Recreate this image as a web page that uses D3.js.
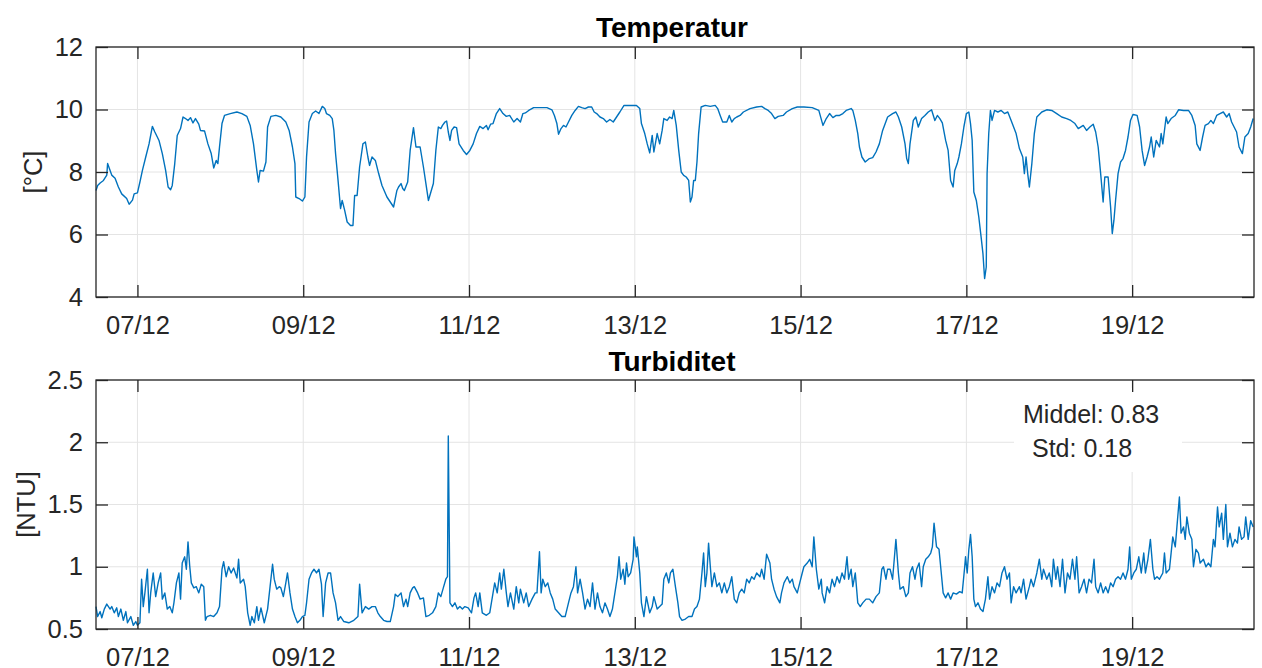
<!DOCTYPE html>
<html>
<head>
<meta charset="utf-8">
<script src="https://cdn.jsdelivr.net/npm/d3@7"></script>
<style>
body { margin: 0; background: #fff; }
svg { font-family: "Liberation Sans", Arial, Helvetica, sans-serif; }
</style>
</head>
<body>
<div id="chart"></div>
<script>
// [day of December, value]
const tempPts = [
[6.50,7.41],[6.52,7.57],[6.55,7.65],[6.59,7.73],[6.63,7.90],[6.64,8.27],[6.67,8.05],[6.69,7.90],[6.73,7.80],[6.77,7.52],[6.81,7.30],[6.87,7.15],[6.90,6.97],[6.94,7.10],[6.96,7.30],[7.00,7.33],[7.03,7.68],[7.06,8.05],[7.10,8.48],[7.14,8.90],[7.18,9.46],[7.21,9.28],[7.26,9.01],[7.30,8.59],[7.34,8.05],[7.37,7.52],[7.40,7.43],[7.42,7.57],[7.45,8.27],[7.48,9.17],[7.52,9.39],[7.55,9.76],[7.58,9.71],[7.61,9.65],[7.64,9.74],[7.67,9.57],[7.70,9.71],[7.74,9.53],[7.76,9.33],[7.81,9.31],[7.85,8.90],[7.89,8.59],[7.92,8.13],[7.95,8.37],[7.97,8.27],[7.99,8.80],[8.02,9.55],[8.05,9.81],[8.12,9.87],[8.20,9.92],[8.26,9.87],[8.32,9.78],[8.36,9.49],[8.40,8.90],[8.44,8.05],[8.46,7.68],[8.48,8.05],[8.52,8.03],[8.55,8.32],[8.57,9.44],[8.61,9.78],[8.67,9.81],[8.73,9.76],[8.79,9.60],[8.83,9.33],[8.87,8.80],[8.90,8.27],[8.91,7.20],[8.95,7.15],[8.99,7.07],[9.02,7.20],[9.04,8.48],[9.07,9.60],[9.11,9.87],[9.15,9.95],[9.19,9.87],[9.23,10.10],[9.26,10.03],[9.28,9.87],[9.32,9.81],[9.35,9.71],[9.37,9.33],[9.39,8.59],[9.42,7.73],[9.45,6.83],[9.47,7.09],[9.50,6.77],[9.53,6.40],[9.57,6.29],[9.60,6.29],[9.62,7.25],[9.65,7.25],[9.68,8.16],[9.72,8.90],[9.75,8.96],[9.78,8.48],[9.80,8.21],[9.83,8.48],[9.87,8.37],[9.91,7.95],[9.95,7.57],[10.01,7.20],[10.05,7.04],[10.09,6.88],[10.13,7.41],[10.15,7.52],[10.18,7.63],[10.20,7.47],[10.22,7.41],[10.26,7.68],[10.29,8.69],[10.33,9.42],
[10.36,8.80],[10.41,8.80],[10.45,8.16],[10.48,7.63],[10.51,7.09],[10.54,7.36],[10.57,7.63],[10.60,8.69],[10.63,9.44],[10.66,9.39],[10.68,9.49],[10.71,9.60],[10.73,9.63],[10.75,9.28],[10.77,9.01],[10.79,9.33],[10.82,9.44],[10.85,9.42],[10.88,8.90],[10.93,8.69],[10.97,8.56],[11.01,8.69],[11.05,8.90],[11.09,9.23],[11.13,9.46],[11.17,9.39],[11.21,9.49],[11.23,9.35],[11.26,9.53],[11.29,9.55],[11.33,9.87],[11.37,10.03],[11.41,9.87],[11.45,9.78],[11.49,9.81],[11.54,9.60],[11.58,9.71],[11.62,9.60],[11.65,9.87],[11.68,9.89],[11.72,9.97],[11.78,10.06],[11.86,10.06],[11.94,10.06],[12.00,9.99],[12.03,9.81],[12.06,9.55],[12.08,9.21],[12.11,9.39],[12.14,9.49],[12.17,9.44],[12.20,9.60],[12.24,9.81],[12.28,9.97],[12.32,10.10],[12.36,10.06],[12.40,10.03],[12.44,10.08],[12.48,10.08],[12.51,9.92],[12.54,9.87],[12.58,9.76],[12.62,9.71],[12.66,9.60],[12.70,9.68],[12.74,9.60],[12.78,9.76],[12.82,9.92],[12.87,10.13],[12.94,10.13],[13.02,10.13],[13.06,10.03],[13.08,9.55],[13.12,9.23],[13.15,8.90],[13.18,8.61],[13.21,9.17],[13.23,8.64],[13.27,9.23],[13.30,8.90],[13.33,9.33],[13.35,9.71],[13.39,9.65],[13.42,9.76],[13.45,9.71],[13.47,9.97],[13.50,9.49],[13.53,8.69],[13.56,8.00],[13.59,7.89],[13.62,7.84],[13.65,7.73],[13.67,7.04],[13.69,7.20],[13.71,7.73],[13.73,7.73],[13.75,8.32],[13.77,9.23],[13.80,10.08],[13.85,10.13],[13.91,10.10],[13.97,10.13],[14.00,10.03],[14.03,9.81],[14.06,9.60],[14.11,9.60],[14.14,9.81],[14.17,9.60],[14.20,9.71],[14.23,9.76],[14.27,9.81],[14.31,9.92],[14.39,10.03],[14.47,10.08],[14.53,10.10],[14.57,10.03],[14.61,9.97],[14.65,9.87],[14.69,9.71],[14.73,9.78],[14.79,9.81],[14.83,9.92],[14.90,10.03],[14.96,10.08],[15.04,10.08],[15.14,10.06],[15.22,9.97],
[15.27,9.49],[15.31,9.71],[15.35,9.87],[15.39,9.74],[15.43,9.81],[15.47,9.81],[15.51,9.87],[15.55,9.97],[15.61,10.03],[15.63,9.97],[15.66,9.65],[15.69,9.23],[15.71,8.80],[15.74,8.48],[15.78,8.32],[15.83,8.43],[15.87,8.46],[15.91,8.64],[15.95,8.90],[15.99,9.33],[16.05,9.76],[16.11,9.87],[16.15,9.92],[16.18,9.76],[16.22,9.44],[16.26,8.90],[16.28,8.43],[16.30,8.27],[16.32,8.90],[16.36,9.65],[16.39,9.76],[16.42,9.44],[16.46,9.71],[16.50,9.81],[16.54,9.92],[16.58,9.99],[16.62,9.65],[16.65,9.81],[16.68,9.71],[16.71,9.57],[16.75,9.01],[16.78,8.69],[16.81,7.73],[16.84,7.52],[16.86,8.05],[16.89,8.27],[16.91,8.48],[16.94,8.90],[16.97,9.44],[17.00,9.87],[17.03,9.92],[17.05,9.55],[17.07,9.01],[17.09,7.36],[17.12,7.09],[17.15,6.56],[17.18,5.87],[17.20,5.39],[17.22,4.59],[17.24,4.96],[17.25,7.95],[17.27,9.23],[17.29,9.97],[17.31,9.65],[17.34,9.97],[17.38,9.92],[17.42,9.97],[17.46,9.87],[17.50,9.92],[17.54,9.65],[17.60,9.23],[17.64,8.75],[17.68,8.48],[17.70,7.95],[17.72,8.48],[17.74,7.95],[17.76,7.52],[17.79,8.27],[17.82,9.23],[17.85,9.76],[17.91,9.92],[17.97,9.99],[18.03,9.97],[18.09,9.87],[18.15,9.76],[18.21,9.71],[18.26,9.65],[18.31,9.55],[18.35,9.39],[18.41,9.49],[18.45,9.33],[18.49,9.44],[18.53,9.53],[18.56,9.28],[18.59,8.80],[18.62,7.95],[18.65,7.04],[18.67,7.84],[18.71,7.84],[18.74,6.88],[18.76,6.03],[18.78,6.45],[18.80,7.09],[18.83,7.95],[18.86,8.32],[18.89,8.43],[18.92,8.69],[18.95,9.12],[18.98,9.65],[19.01,9.84],[19.06,9.81],[19.09,9.44],[19.12,8.69],[19.15,8.21],[19.18,8.48],[19.21,8.80],[19.23,9.12],[19.26,8.48],[19.29,9.01],[19.33,8.80],[19.35,9.23],[19.37,8.90],[19.41,9.76],[19.43,9.55],[19.47,9.71],[19.52,9.81],[19.56,9.99],[19.62,9.97],[19.68,9.97],[19.72,9.81],[19.76,9.49],[19.78,8.90],[19.82,8.69],[19.85,9.12],[19.88,9.49],[19.92,9.55],[19.95,9.65],[19.98,9.55],[20.02,9.81],[20.06,9.87],[20.10,9.92],[20.14,9.76],[20.17,9.87],[20.20,9.60],[20.23,9.44],[20.26,9.28],[20.29,8.80],[20.33,8.59],[20.36,9.12],[20.40,9.23],[20.43,9.44],[20.46,9.71]
];

const turbPts = [
[6.50,0.68],[6.52,0.60],[6.55,0.64],[6.57,0.59],[6.60,0.66],[6.63,0.70],[6.67,0.66],[6.69,0.68],[6.72,0.63],[6.75,0.67],[6.77,0.60],[6.80,0.66],[6.83,0.57],[6.86,0.64],[6.88,0.55],[6.92,0.60],[6.95,0.53],[6.98,0.56],[7.00,0.53],[7.03,0.55],[7.05,0.90],[7.07,0.68],[7.09,0.79],[7.12,0.98],[7.14,0.63],[7.16,0.79],[7.19,0.95],[7.22,0.76],[7.25,0.87],[7.28,0.95],[7.30,0.74],[7.33,0.79],[7.36,0.66],[7.39,0.68],[7.42,0.63],[7.44,0.71],[7.47,0.87],[7.50,0.95],[7.52,0.74],[7.54,1.03],[7.57,1.08],[7.59,0.98],[7.61,1.20],[7.63,1.01],[7.65,0.87],[7.68,0.83],[7.71,0.84],[7.74,0.79],[7.77,0.86],[7.80,0.84],[7.82,0.57],[7.84,0.60],[7.88,0.61],[7.92,0.60],[7.96,0.63],[7.99,0.68],[8.02,0.98],[8.04,1.04],[8.07,0.92],[8.10,1.00],[8.13,0.95],[8.16,0.99],[8.20,0.91],[8.22,1.06],[8.24,0.87],[8.28,0.90],[8.30,0.84],[8.33,0.63],[8.36,0.53],[8.38,0.60],[8.41,0.55],[8.44,0.68],[8.46,0.57],[8.49,0.67],[8.53,0.55],[8.57,0.66],[8.60,0.84],[8.63,1.02],[8.65,0.90],[8.68,0.82],[8.71,0.84],[8.73,0.83],[8.76,0.76],[8.79,0.87],[8.81,0.95],[8.84,0.79],[8.87,0.66],[8.90,0.60],[8.93,0.55],[8.96,0.57],[8.99,0.60],[9.02,0.61],[9.04,0.71],[9.07,0.90],[9.10,0.95],[9.13,0.98],[9.16,0.95],[9.19,0.98],[9.22,0.86],[9.24,0.60],[9.27,0.87],[9.30,0.95],[9.33,0.95],[9.36,0.79],[9.39,0.71],[9.42,0.57],[9.45,0.60],[9.49,0.56],[9.55,0.55],[9.61,0.57],[9.66,0.60],[9.68,0.86],[9.71,0.63],[9.75,0.68],[9.79,0.66],[9.83,0.68],[9.87,0.68],[9.90,0.63],[9.93,0.60],[9.97,0.57],[10.01,0.56],[10.05,0.56],[10.09,0.68],[10.11,0.78],[10.14,0.76],[10.18,0.79],[10.21,0.68],[10.24,0.74],[10.26,0.68],[10.29,0.79],[10.32,0.83],[10.34,0.84],[10.38,0.79],[10.41,0.74],
[10.45,0.75],[10.48,0.60],[10.52,0.61],[10.56,0.63],[10.60,0.68],[10.63,0.79],[10.66,0.76],[10.69,0.83],[10.72,0.90],[10.74,0.92],[10.75,2.05],[10.77,0.71],[10.80,0.68],[10.83,0.71],[10.86,0.66],[10.89,0.68],[10.92,0.66],[10.95,0.68],[10.99,0.67],[11.03,0.63],[11.06,0.75],[11.08,0.79],[11.11,0.68],[11.13,0.79],[11.16,0.63],[11.21,0.61],[11.25,0.63],[11.27,0.71],[11.31,0.87],[11.34,0.79],[11.37,0.95],[11.39,0.82],[11.42,0.98],[11.45,0.79],[11.47,0.68],[11.50,0.79],[11.54,0.66],[11.57,0.84],[11.60,0.71],[11.62,0.82],[11.66,0.71],[11.69,0.79],[11.72,0.68],[11.76,0.74],[11.80,0.79],[11.82,0.79],[11.85,1.12],[11.87,0.79],[11.89,0.90],[11.92,0.84],[11.95,0.87],[11.98,0.79],[12.01,0.74],[12.04,0.66],[12.08,0.63],[12.12,0.60],[12.16,0.60],[12.20,0.71],[12.23,0.79],[12.26,0.84],[12.29,1.00],[12.31,0.79],[12.34,0.90],[12.37,0.79],[12.40,0.66],[12.43,0.74],[12.46,0.68],[12.49,0.87],[12.52,0.66],[12.55,0.79],[12.58,0.68],[12.61,0.63],[12.64,0.71],[12.67,0.66],[12.70,0.60],[12.73,0.66],[12.76,0.79],[12.79,0.92],[12.81,1.08],[12.83,0.90],[12.86,0.98],[12.88,0.86],[12.90,1.03],[12.92,0.92],[12.95,0.95],[12.98,1.06],[12.99,1.24],[13.02,1.08],[13.03,1.16],[13.06,0.95],[13.08,0.71],[13.11,0.60],[13.14,0.76],[13.18,0.63],[13.21,0.68],[13.23,0.76],[13.27,0.66],[13.30,0.68],[13.33,0.70],[13.35,0.90],[13.38,0.95],[13.41,0.87],[13.43,0.95],[13.46,0.98],[13.49,0.84],[13.52,0.71],[13.54,0.60],[13.57,0.57],[13.61,0.58],[13.65,0.60],[13.69,0.60],[13.72,0.66],[13.75,0.68],[13.78,0.74],[13.81,0.95],[13.83,1.11],[13.85,0.84],[13.87,0.95],[13.89,1.19],[13.91,1.01],[13.93,0.84],[13.96,0.95],[13.99,0.84],[14.02,0.87],[14.05,0.79],[14.08,0.87],[14.11,0.79],[14.14,0.84],[14.17,0.92],[14.20,0.74],[14.23,0.71],[14.26,0.79],[14.29,0.82],[14.32,0.79],[14.35,0.90],[14.38,0.87],[14.41,0.92],[14.44,0.90],[14.47,0.95],[14.51,0.92],[14.53,0.98],[14.56,0.90],[14.59,1.10],[14.63,1.03],[14.65,0.90],[14.68,0.82],[14.71,0.76],[14.75,0.71],[14.77,0.79],[14.80,0.87],[14.84,0.92],[14.87,0.87],[14.90,0.90],[14.92,0.84],[14.96,0.79],[14.99,0.87],[15.02,0.95],[15.04,1.00],[15.08,1.03],[15.11,1.06],[15.14,1.00],[15.16,1.24],[15.19,0.98],[15.22,0.82],[15.25,0.90],
[15.26,0.79],[15.29,0.71],[15.32,0.84],[15.35,0.79],[15.38,0.90],[15.41,0.84],[15.44,0.92],[15.47,0.87],[15.50,0.95],[15.53,0.90],[15.56,1.08],[15.58,0.90],[15.61,0.98],[15.63,0.84],[15.66,0.95],[15.69,0.71],[15.72,0.68],[15.75,0.71],[15.79,0.74],[15.83,0.74],[15.87,0.71],[15.91,0.76],[15.95,0.79],[15.98,0.98],[16.00,1.00],[16.03,0.90],[16.05,0.98],[16.08,0.98],[16.11,0.90],[16.13,1.06],[16.15,1.22],[16.18,0.95],[16.20,0.82],[16.24,0.84],[16.27,0.76],[16.30,0.79],[16.32,0.95],[16.35,1.00],[16.38,0.90],[16.40,0.98],[16.43,1.03],[16.46,0.84],[16.48,1.00],[16.51,1.06],[16.54,1.08],[16.57,1.11],[16.59,1.16],[16.61,1.35],[16.64,1.16],[16.67,1.14],[16.69,1.00],[16.72,0.79],[16.75,0.75],[16.78,0.79],[16.81,0.74],[16.84,0.79],[16.88,0.78],[16.92,0.80],[16.95,0.79],[16.98,1.00],[16.99,1.08],[17.01,0.95],[17.03,1.14],[17.05,1.26],[17.07,1.08],[17.09,0.74],[17.11,0.68],[17.14,0.71],[17.17,0.66],[17.20,0.64],[17.23,0.74],[17.26,0.92],[17.28,0.74],[17.31,0.84],[17.34,0.79],[17.37,0.87],[17.40,0.84],[17.43,0.95],[17.46,1.00],[17.49,0.90],[17.52,0.95],[17.54,0.71],[17.57,0.84],[17.60,0.79],[17.64,0.84],[17.66,0.79],[17.69,0.90],[17.72,0.74],[17.76,0.84],[17.78,0.90],[17.81,0.84],[17.85,0.95],[17.88,1.06],[17.91,0.90],[17.93,0.98],[17.97,0.90],[18.00,0.95],[18.03,0.84],[18.05,1.06],[18.08,0.90],[18.10,1.00],[18.13,0.84],[18.16,1.06],[18.19,0.79],[18.22,0.95],[18.25,0.90],[18.28,1.06],[18.31,0.90],[18.33,1.08],[18.36,0.79],[18.39,0.84],[18.42,0.90],[18.45,0.79],[18.48,0.90],[18.51,0.87],[18.54,1.06],[18.56,0.84],[18.59,0.79],[18.62,0.87],[18.65,0.79],[18.68,0.84],[18.71,0.79],[18.74,0.87],[18.77,0.84],[18.80,0.90],[18.83,0.92],[18.86,0.90],[18.89,0.95],[18.92,0.90],[18.95,0.98],[18.97,1.16],[18.99,0.90],[19.02,0.95],[19.05,0.98],[19.08,1.08],[19.11,0.95],[19.14,1.11],[19.16,0.95],[19.19,1.06],[19.22,1.22],[19.25,0.98],[19.27,0.90],[19.30,0.92],[19.33,0.90],[19.37,0.95],[19.39,1.11],[19.41,0.95],[19.45,0.98],[19.47,1.11],[19.49,1.24],[19.52,1.16],[19.54,1.32],[19.57,1.56],[19.59,1.27],[19.62,1.32],[19.64,1.22],[19.66,1.40],[19.69,1.27],[19.72,1.22],[19.74,1.00],[19.77,1.14],[19.80,1.11],[19.82,1.03],[19.86,1.06],[19.89,1.00],[19.92,1.03],[19.95,1.00],[19.98,1.22],[20.00,1.16],[20.03,1.48],[20.05,1.32],[20.08,1.43],[20.10,1.22],[20.13,1.50],[20.15,1.16],[20.18,1.27],[20.21,1.16],[20.24,1.22],[20.27,1.19],[20.29,1.32],[20.32,1.22],[20.35,1.24],[20.37,1.40],[20.40,1.22],[20.43,1.37],[20.46,1.32]
];

const xTickDays = [7, 9, 11, 13, 15, 17, 19];
const xSpan = [6.50, 20.47];
const tempTicks = [4, 6, 8, 10, 12];
const turbTicks = [0.5, 1, 1.5, 2, 2.5];
const statLines = ["Middel: 0.83", "Std: 0.18"];

function toDate(day) {
    return new Date(new Date(2016, 11, 1).getTime() + (day - 1) * 864e5);
}

var width = 1262, height = 668;
var margin = {left: 96, right: 8};

var svg = d3.select("#chart")
    .append("svg")
    .attr("width", width)
    .attr("height", height);

var x = d3.scaleTime()
    .domain(xSpan.map(toDate))
    .range([margin.left, width - margin.right]);

var xTickDates = xTickDays.map(toDate);
var fmt = d3.timeFormat("%d/%m");
var ink = "#262626";

function drawPanel(p) {
    var y = d3.scaleLinear().domain(p.domain).range([p.bottom, p.top]);
    var g = svg.append("g");
    var x0 = margin.left, x1 = width - margin.right;

    // grid
    g.append("g").selectAll("line").data(xTickDates).enter().append("line")
        .attr("x1", d => x(d)).attr("x2", d => x(d))
        .attr("y1", p.top).attr("y2", p.bottom)
        .attr("stroke", "#e4e4e4").attr("stroke-width", 1);
    g.append("g").selectAll("line").data(p.ticks).enter().append("line")
        .attr("x1", x0).attr("x2", x1)
        .attr("y1", d => y(d)).attr("y2", d => y(d))
        .attr("stroke", "#e4e4e4").attr("stroke-width", 1);

    if (p.stats) {
        g.append("rect")
            .attr("x", 1014).attr("y", p.top + 8)
            .attr("width", 168).attr("height", 84)
            .attr("fill", "#fff");
        g.selectAll(".stat").data(p.stats).enter().append("text")
            .attr("class", "stat")
            .attr("x", (d, i) => i === 0 ? 1023 : 1032)
            .attr("y", (d, i) => 423 + i * 34)
            .attr("font-size", 25)
            .attr("fill", ink)
            .text(d => d);
    }

    g.append("path")
        .datum(p.data)
        .attr("fill", "none")
        .attr("stroke", "#0072BD")
        .attr("stroke-width", 1.4)
        .attr("stroke-linejoin", "round")
        .attr("d", d3.line()
            .x(d => x(toDate(d[0])))
            .y(d => y(d[1])));

    // axes with inward ticks
    var axes = [
        g.append("g").attr("transform", "translate(0," + p.bottom + ")")
            .call(d3.axisBottom(x).tickValues(xTickDates).tickSize(-12).tickPadding(19).tickFormat(fmt)),
        g.append("g").attr("transform", "translate(0," + p.top + ")")
            .call(d3.axisTop(x).tickValues(xTickDates).tickSize(-12).tickFormat("")),
        g.append("g").attr("transform", "translate(" + x0 + ",0)")
            .call(d3.axisLeft(y).tickValues(p.ticks).tickSize(-12).tickPadding(13).tickFormat(d => String(d))),
        g.append("g").attr("transform", "translate(" + x1 + ",0)")
            .call(d3.axisRight(y).tickValues(p.ticks).tickSize(-12).tickFormat(""))
    ];
    axes.forEach(a => {
        a.select(".domain").remove();
        a.selectAll("line").attr("stroke", ink).attr("stroke-width", 1.3);
        a.selectAll("text").attr("font-size", 25.5).attr("fill", ink)
            .attr("font-family", "'Liberation Sans', Arial, sans-serif");
    });

    g.append("rect")
        .attr("x", x0).attr("y", p.top)
        .attr("width", x1 - x0).attr("height", p.bottom - p.top)
        .attr("fill", "none").attr("stroke", ink).attr("stroke-width", 1.3);

    g.append("text")
        .attr("x", (x0 + x1) / 2 - 3).attr("y", p.titleY)
        .attr("text-anchor", "middle")
        .attr("font-size", 28).attr("font-weight", "bold")
        .attr("fill", "#000")
        .text(p.title);

    g.append("text")
        .attr("transform", "translate(" + p.labelX + "," + (p.top + p.bottom) / 2 + ") rotate(-90)")
        .attr("text-anchor", "middle")
        .attr("dy", "0.35em")
        .attr("font-size", 25.5)
        .attr("fill", ink)
        .text(p.label);
}

drawPanel({top: 47, bottom: 297, domain: [4, 12], ticks: tempTicks, data: tempPts,
    title: "Temperatur", titleY: 37, label: "[°C]", labelX: 33});
drawPanel({top: 380, bottom: 629, domain: [0.5, 2.5], ticks: turbTicks, data: turbPts,
    title: "Turbiditet", titleY: 371, label: "[NTU]", labelX: 26, stats: statLines});
</script>
</body>
</html>
